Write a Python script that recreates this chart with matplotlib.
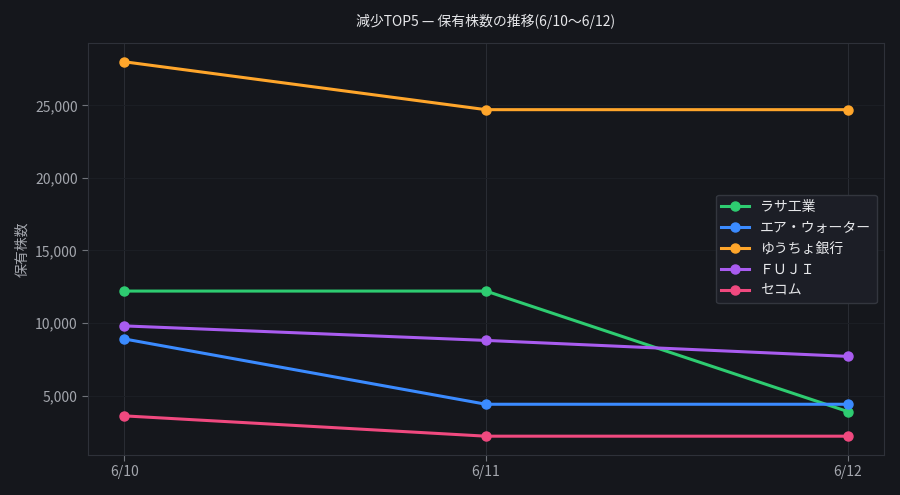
import matplotlib
matplotlib.use("Agg")
import matplotlib.pyplot as plt
from matplotlib.ticker import FuncFormatter

plt.rcParams['font.family'] = ['Noto Sans CJK JP', 'DejaVu Sans']

dates = ["6/10", "6/11", "6/12"]
names = ["ラサ工業", "エア・ウォーター", "ゆうちょ銀行", "ＦＵＪＩ", "セコム"]
rasa = [12200, 12200, 3900]
air_water = [8900, 4400, 4400]
yucho = [28000, 24700, 24700]
fuji = [9800, 8800, 7700]
secom = [3600, 2200, 2200]
series = [rasa, air_water, yucho, fuji, secom]
colors = ["#2ecc71", "#3b8bff", "#ffa62b", "#a95cf0", "#f0497f"]

bg = "#15171c"
fig = plt.figure(figsize=(9, 4.95), dpi=100, facecolor=bg)
ax = fig.add_axes([0.098, 0.081, 0.884, 0.832])
ax.set_facecolor(bg)

x = list(range(len(dates)))
for vals, name, c in zip(series, names, colors):
    ax.plot(x, vals, color=c, lw=2.2, marker='o', ms=6.5, label=name)

ax.set_xticks(x)
ax.set_xticklabels(dates)
ax.yaxis.set_major_formatter(FuncFormatter(lambda v, p: f"{int(v):,}"))
ax.set_yticks([5000, 10000, 15000, 20000, 25000])

ax.grid(True, axis='x', color="#2a2d34", lw=0.7)
ax.grid(True, axis='y', color="#1c1f25", lw=0.7)
ax.set_axisbelow(True)
for s in ax.spines.values():
    s.set_color("#2e3139")
    s.set_linewidth(0.8)
ax.tick_params(colors="#a3a6ad", labelsize=10, length=4)
ax.tick_params(axis='both', color="#70737a")

ax.set_ylabel("保有株数", color="#a3a6ad", fontsize=10)
ax.set_title("減少TOP5 — 保有株数の推移(6/10〜6/12)", color="#e6e7ea", fontsize=10, pad=12)

leg = ax.legend(loc='center right', bbox_to_anchor=(1.0, 0.5), facecolor="#1c1e26",
                edgecolor="#33363e", labelcolor="#e6e7ea", fontsize=10, framealpha=1.0)

fig.savefig("out.png", dpi=100, facecolor=bg)
